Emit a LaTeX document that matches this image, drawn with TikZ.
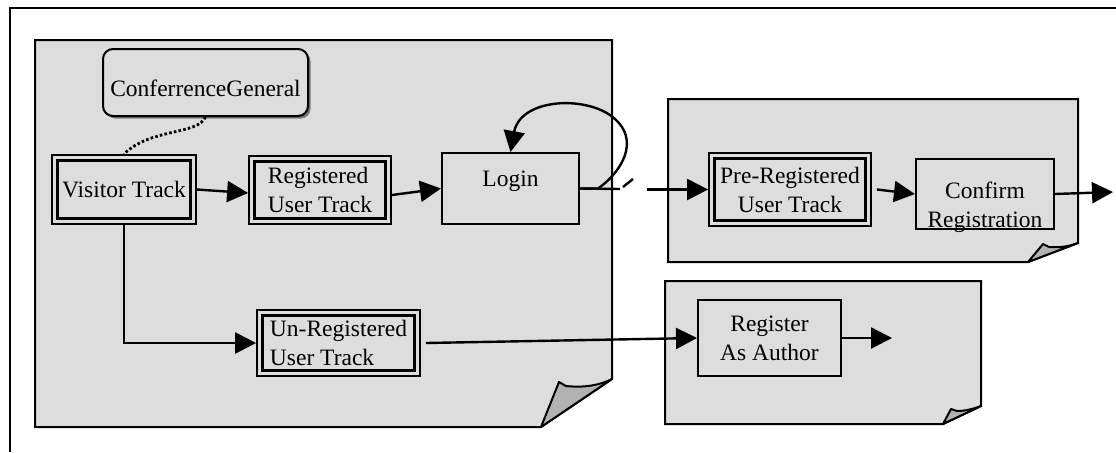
\documentclass[tikz,border=0pt]{standalone}
\usepackage{fontspec}
\setmainfont{Liberation Serif}
\usetikzlibrary{arrows.meta,shadows}
\newcommand*{\shifted}[2]{\raisebox{#1}[0pt][0pt]{\begin{tabular}[t]{@{}c@{}}#2\end{tabular}}}
\definecolor{pagegray}{gray}{0.865}
\definecolor{foldgray}{gray}{0.70}

\begin{document}
\begin{tikzpicture}[x=0.5pt,y=-0.5pt,>={Triangle[length=10.5pt,width=10.5pt]},
        font=\fontsize{11.75}{14.5}\selectfont,
        page/.style={fill=pagegray,draw=black,line width=1pt},
        fold/.style={fill=foldgray,draw=black,line width=1pt,line join=round},
        procbox/.style={draw=black,line width=1pt,inner sep=2pt},
        trackbox/.style={procbox,line width=0.9pt,path picture={\draw[line width=1.8pt]
                ([shift={(2.8pt,-2.8pt)}]path picture bounding box.north west) rectangle
                ([shift={(-2.8pt,2.8pt)}]path picture bounding box.south east);}},
        flow/.style={->,line width=1.2pt},
        note/.style={line width=1.4pt,dash pattern=on 1.3pt off 1.1pt}]
                \useasboundingbox (0,0) rectangle (1116,452);
                \draw[line width=1.3pt] (10,452) -- (10,8) -- (1116,8);

                \draw[page] (35,40) -- (612,40) -- (612,379) -- (541,427) -- (35,427) -- cycle;
                \draw[fold] (541,427) -- (559,382) -- (566,386) .. controls (585,388) and (600,385) .. (612,379) -- cycle;
                \draw[page] (668,99) -- (1078,99) -- (1078,243) -- (1028,262) -- (668,262) -- cycle;
                \draw[fold] (1028,262) -- (1043,244) -- (1049,247) .. controls (1060,248) and (1070,246) .. (1078,243) -- cycle;
                \draw[page] (665,281) -- (981,281) -- (981,406) -- (943,424) -- (665,424) -- cycle;
                \draw[fold] (943,424) -- (951,409) -- (957,411) .. controls (965,411) and (973,409) .. (981,406) -- cycle;

                \node[draw=black,line width=1pt,rounded corners=5pt,fill=pagegray,
                      drop shadow={shadow xshift=1.3pt,shadow yshift=-1.3pt,fill=black,opacity=0.45},
                      minimum width=102.5pt,minimum height=33.5pt,inner sep=1pt] (cg) at (205.5,82.5)
                      {\shifted{-6.75pt}{ConferrenceGeneral}};
                \node[trackbox,minimum width=72pt,minimum height=34.5pt] (visitor) at (124,189.5) {Visitor Track};
                \node[trackbox,minimum width=71pt,minimum height=34pt,align=left] (regtrack) at (320,190) {Registered\\User Track};
                \node[procbox,minimum width=68.5pt,minimum height=35.5pt] (login) at (510.5,188.5) {\shifted{1pt}{Login}};
                \node[trackbox,minimum width=81pt,minimum height=36.5pt,align=center] (prereg) at (790,189.5) {Pre-Registered\\User Track};
                \node[procbox,minimum width=69pt,minimum height=35pt] (confirm) at (985,194) {\shifted{-2pt}{Confirm\\Registration}};
                \node[trackbox,minimum width=81.5pt,minimum height=33pt,align=left] (unreg) at (338.5,343) {Un-Registered\\User Track};
                \node[procbox,minimum width=71.5pt,minimum height=38pt,align=center] (regauthor) at (769.5,338) {Register\\As Author};

                \coordinate (brk1) at (620,189);
                \coordinate (slash1) at (623,187);
                \coordinate (slash2) at (633,179);
                \coordinate (brk2) at (647,189.5);
                \coordinate (confout) at (1113,192);
                \coordinate (authout) at (892,338);

                \draw[note] (cg.south) .. controls (198,135) and (150,128) .. (visitor.north);
                \draw[flow] (visitor.east) -- ([yshift=-1.5pt]regtrack.west);
                \draw[flow] ([yshift=-2.5pt]regtrack.east) -- (login.west);
                \draw[flow] (login.east) -- (598,188.5) .. controls (618,175) and (645,140) .. (610,115)
                            .. controls (580,95) and (520,100) .. (login.north);
                \draw[line width=1.2pt] (login.east) -- (brk1);
                \draw[line width=1.2pt] (slash1) -- (slash2);
                \draw[flow] (brk2) -- (prereg.west);
                \draw[flow] ([xshift=2.5pt]prereg.east) -- (confirm.west);
                \draw[flow] (confirm.east) -- (confout);
                \draw[flow] (visitor.south) |- (unreg.west);
                \draw[flow] ([xshift=2.5pt]unreg.east) -- (regauthor.west);
                \draw[flow] (regauthor.east) -- (authout);
\end{tikzpicture}
\end{document}
